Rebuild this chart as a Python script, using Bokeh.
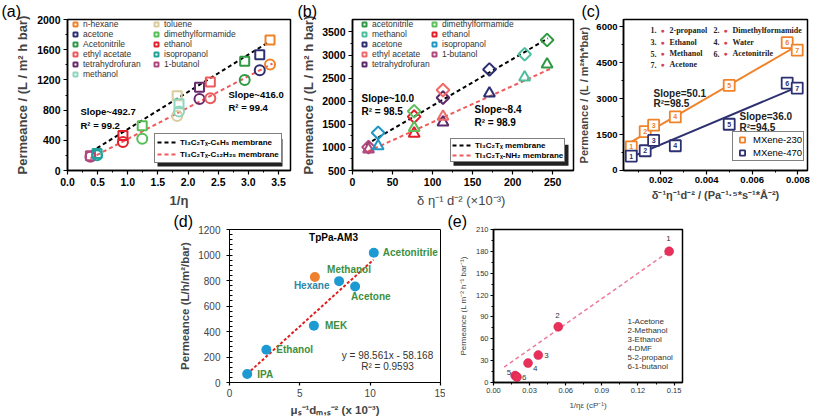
import math
from bokeh.plotting import figure
from bokeh.models import (Label, Legend, LegendItem, BoxAnnotation, Spacer,
                          FixedTicker, NumeralTickFormatter, ColumnDataSource)
from bokeh.layouts import column, row
from bokeh.embed import file_html
from bokeh.resources import INLINE
from bokeh.core.properties import value

SANS = "Liberation Sans"
SERIF = "Liberation Serif"

# ---------------- data: panel (a) ----------------
a_solvents = ["1-butanol", "isopropanol", "ethanol", "dimethylformamide", "toluene",
              "methanol", "tetrahydrofuran", "ethyl acetate", "Acetonitrile", "acetone", "n-hexane"]
a_inv_eta = [0.38, 0.49, 0.92, 1.24, 1.82, 1.85, 2.19, 2.37, 2.94, 3.19, 3.36]
a_perm_c6h5 = [195, 225, 463, 593, 991, 883, 1104, 1173, 1446, 1532, 1727]
a_perm_c12h25 = [182, 203, 377, 420, 723, 783, 948, 957, 1199, 1329, 1403]
a_colors = ["#b0487e", "#1fa39c", "#e21f2b", "#55bf55", "#d9cc9e", "#8fd6bd",
            "#6a2b6a", "#ee5a5a", "#2e9a45", "#2c3070", "#f08228"]
a_leg_col1 = ["n-hexane", "acetone", "Acetonitrile", "ethyl acetate", "tetrahydrofuran", "methanol"]
a_leg_col2 = ["toluene", "dimethylformamide", "ethanol", "isopropanol", "1-butanol"]
a_fit1_x = [0.39, 3.33]
a_fit1_y = [247, 1697]
a_fit2_x = [0.38, 3.40]
a_fit2_y = [160, 1415]

# ---------------- data: panel (b) ----------------
b_solvents = ["1-butanol", "isopropanol", "ethanol", "dimethylformamide", "tetrahydrofuran",
              "ethyl acetate", "acetone", "methanol", "acetonitrile"]
b_x = [20, 32, 77, 77, 113, 113, 171, 215, 243]
b_perm_ti = [1007, 1316, 1666, 1783, 2077, 2242, 2688, 3017, 3326]
b_perm_nh2 = [960, 1028, 1302, 1426, 1542, 1666, 2173, 2516, 2798]
b_colors = ["#b0487e", "#2098c4", "#e21f2b", "#5cbf5c", "#5a2a6a",
            "#f06a6a", "#2c3070", "#4cbf9f", "#2e9a45"]
b_leg_col1 = ["acetonitrile", "methanol", "acetone", "ethyl acetate", "tetrahydrofuran"]
b_leg_col2 = ["dimethylformamide", "ethanol", "isopropanol", "1-butanol"]
b_fit1_x = [17, 244]
b_fit1_y = [1062, 3360]
b_fit2_x = [19, 247]
b_fit2_y = [911, 2701]

# ---------------- data: panel (c) ----------------
c_num = ["1", "2", "3", "4", "5", "6", "7"]
c_names = ["2-propanol", "Dimethylformamide", "Ethanol", "Water", "Methanol", "Acetonitrile", "Acetone"]
c_x = [0.00070, 0.00131, 0.00168, 0.00263, 0.00499, 0.00753, 0.00797]
c_perm_230 = [983, 1622, 1892, 2236, 3550, 5332, 5025]
c_perm_470 = [602, 823, 1253, 1032, 1929, 3649, 3440]
c_fit230_x = [0.00070, 0.00804]
c_fit230_y = [1192, 5246]
c_fit470_x = [0.00074, 0.00800]
c_fit470_y = [577, 3489]

# ---------------- data: panel (d) ----------------
d_names = ["IPA", "Ethanol", "MEK", "Hexane", "Methanol", "Acetone", "Acetonitrile"]
d_x = [1.26, 2.62, 6.00, 6.07, 7.79, 8.93, 10.26]
d_perm = [66, 257, 446, 827, 795, 753, 1018]
d_fit_x = [1.24, 10.24]
d_fit_y = [66, 963]

# ---------------- data: panel (e) ----------------
e_num = ["1", "2", "3", "4", "5", "6"]
e_names = ["1-Acetone", "2-Methanol", "3-Ethanol", "4-DMF", "5-2-propanol", "6-1-butanol"]
e_x = [0.1459, 0.0538, 0.0372, 0.0287, 0.0180, 0.0195]
e_perm = [180, 76.5, 37.6, 26.6, 9.5, 7.5]
e_fit_x = [0.0088, 0.146]
e_fit_y = [21, 180]


def make_fig(canvas, frame, xr, yr):
    cx0, cx1, cy0, cy1 = canvas
    fx0, fx1, fy0, fy1 = frame
    p = figure(width=cx1 - cx0, height=cy1 - cy0, x_range=xr, y_range=yr,
               output_backend="svg", toolbar_location=None,
               min_border_left=fx0 - cx0, min_border_right=cx1 - fx1,
               min_border_top=fy0 - cy0, min_border_bottom=cy1 - fy1)
    p.xgrid.visible = False
    p.ygrid.visible = False
    p.outline_line_color = "black"
    p.outline_line_width = 1.5
    p.background_fill_color = "white"
    p.border_fill_color = "white"
    for ax in (p.xaxis[0], p.yaxis[0]):
        ax.axis_line_width = 1.5
        ax.major_tick_line_width = 1.2
        ax.minor_tick_line_width = 1
        ax.major_tick_in = 0
        ax.major_tick_out = 4
        ax.minor_tick_in = 0
        ax.minor_tick_out = 2
        ax.major_label_text_font = SANS
        ax.axis_label_text_font = SANS
        ax.major_label_text_color = "black"
        ax.major_label_standoff = 3
        ax.axis_label_standoff = 4
    return p


def mapper(frame, xr, yr):
    fx0, fx1, fy0, fy1 = frame

    def f(cx, cy):
        x = xr[0] + (cx - fx0) / (fx1 - fx0) * (xr[1] - xr[0])
        y = yr[0] + (fy1 - cy) / (fy1 - fy0) * (yr[1] - yr[0])
        return x, y
    return f


def add_text(p, m, cx, cy, text, size, bold=False, color="black", font=SANS, align="left",
             baseline="middle"):
    x, y = m(cx, cy)
    p.add_layout(Label(x=x, y=y, text=text, text_font_size=size, text_font=font,
                       text_font_style="bold" if bold else "normal", text_color=color,
                       text_align=align, text_baseline=baseline))


def panel_letter(p, text, offset):
    p.title.text = text
    p.title.align = "left"
    p.title.offset = offset
    p.title.text_font_size = "16px"
    p.title.text_font_style = "normal"
    p.title.text_font = SANS
    p.title.text_color = "black"
    p.title.standoff = 0
    p.title.vertical_align = "bottom"


def style_legend(leg, fs, gw, gh, lh, font=SANS, bold=False, color="#333333"):
    leg.label_text_font_size = fs
    leg.label_text_font = font
    leg.label_text_font_style = "bold" if bold else "normal"
    leg.label_text_color = color
    leg.glyph_width = gw
    leg.glyph_height = gh
    leg.label_height = lh
    leg.label_standoff = 3
    leg.spacing = 0
    leg.margin = 0
    leg.orientation = "vertical"


# ======================= panel (a) =======================
A_canvas = (0, 295, 0, 210)
A_frame = (67, 290, 18, 172)
A_xr = (0.0, 3.7)
A_yr = (0, 2000)
pa = make_fig(A_canvas, A_frame, A_xr, A_yr)
ma = mapper(A_frame, A_xr, A_yr)
pa.xaxis.ticker = FixedTicker(ticks=[0, 0.5, 1, 1.5, 2, 2.5, 3, 3.5],
                              minor_ticks=[0.25, 0.75, 1.25, 1.75, 2.25, 2.75, 3.25])
pa.yaxis.ticker = FixedTicker(ticks=[0, 400, 800, 1200, 1600, 2000],
                              minor_ticks=[200, 600, 1000, 1400, 1800])
pa.xaxis.formatter = NumeralTickFormatter(format="0.0")
for ax in (pa.xaxis[0], pa.yaxis[0]):
    ax.major_label_text_font_size = "10.5px"
    ax.major_label_text_font_style = "bold"
    ax.axis_label_text_font_size = "13px"
    ax.axis_label_text_font_style = "bold"
pa.xaxis.axis_label = "1/η"
pa.yaxis.axis_label = "Permeance / (L / m² h bar)"

# shadow of line legend
sx0, sy0 = ma(157, 140)
sx1, sy1 = ma(282, 168)
pa.add_layout(BoxAnnotation(left=sx0, right=sx1, top=sy0, bottom=sy1,
                            fill_color="#222222", fill_alpha=1, line_alpha=0))

la1 = pa.line(a_fit1_x, a_fit1_y, line_color="black", line_width=2, line_dash="4 3")
la2 = pa.line(a_fit2_x, a_fit2_y, line_color="#f05a5a", line_width=2, line_dash="4 3")
a_sq = {}
for name, xv, ys, yc, col in zip(a_solvents, a_inv_eta, a_perm_c6h5, a_perm_c12h25, a_colors):
    pa.scatter([xv], [yc], marker="circle", size=10, line_color=col, line_width=2, fill_color=None)
    a_sq[name] = pa.scatter([xv], [ys], marker="square", size=9, line_color=col, line_width=2,
                            fill_color=None)

leg_a1 = Legend(items=[LegendItem(label=n, renderers=[a_sq[n]]) for n in a_leg_col1],
                location=(3, 91), border_line_alpha=0, background_fill_alpha=0, padding=0)
style_legend(leg_a1, "8.5px", 10, 10, 10)
leg_a2 = Legend(items=[LegendItem(label=n, renderers=[a_sq[n]]) for n in a_leg_col2],
                location=(84, 101), border_line_alpha=0, background_fill_alpha=0, padding=0)
style_legend(leg_a2, "8.5px", 10, 10, 10)
leg_a3 = Legend(items=[LegendItem(label="Ti₃C₂Tₓ-C₆H₅ membrane", renderers=[la1]),
                       LegendItem(label="Ti₃C₂Tₓ-C₁₂H₂₅ membrane", renderers=[la2])],
                location=(87, 7), border_line_color="black", border_line_width=1,
                background_fill_color="white", background_fill_alpha=1, padding=2)
style_legend(leg_a3, "8px", 20, 12, 12, bold=True, color="black")
pa.add_layout(leg_a1)
pa.add_layout(leg_a2)
pa.add_layout(leg_a3)

add_text(pa, ma, 80, 112, "Slope~492.7", "9.5px", bold=True)
add_text(pa, ma, 80, 126, "R² = 99.2", "9.5px", bold=True)
add_text(pa, ma, 228, 94, "Slope~416.0", "9.5px", bold=True)
add_text(pa, ma, 228, 108, "R² = 99.4", "9.5px", bold=True)
panel_letter(pa, "(a)", -66)

# ======================= panel (b) =======================
B_canvas = (295, 575, 0, 210)
B_frame = (352, 573, 15, 174)
B_xr = (0, 276)
B_yr = (500, 3770)
pb = make_fig(B_canvas, B_frame, B_xr, B_yr)
mb = mapper(B_frame, B_xr, B_yr)
pb.xaxis.ticker = FixedTicker(ticks=[0, 50, 100, 150, 200, 250],
                              minor_ticks=[25, 75, 125, 175, 225])
pb.yaxis.ticker = FixedTicker(ticks=[500, 1000, 1500, 2000, 2500, 3000, 3500],
                              minor_ticks=[750, 1250, 1750, 2250, 2750, 3250])
for ax in (pb.xaxis[0], pb.yaxis[0]):
    ax.major_label_text_font_size = "10.5px"
    ax.major_label_text_font_style = "bold"
    ax.axis_label_text_font_size = "13px"
pb.yaxis.axis_label_text_font_style = "bold"
pb.xaxis.axis_label_text_font_style = "normal"
pb.xaxis.axis_label = "δ  η⁻¹ d⁻² (×10⁻³)"
pb.yaxis.axis_label = "Permeance / (L / m² h bar)"
pb.yaxis.axis_label_standoff = 3

bx0, by0 = mb(453, 147)
bx1, by1 = mb(568, 169)
pb.add_layout(BoxAnnotation(left=bx0, right=bx1, top=by0, bottom=by1,
                            fill_color="#222222", fill_alpha=1, line_alpha=0))
lb1 = pb.line(b_fit1_x, b_fit1_y, line_color="black", line_width=2, line_dash="4 3")
lb2 = pb.line(b_fit2_x, b_fit2_y, line_color="#f05a5a", line_width=2, line_dash="4 3")
b_dm = {}
for name, xv, yd, yt, col in zip(b_solvents, b_x, b_perm_ti, b_perm_nh2, b_colors):
    pb.scatter([xv], [yt], marker="triangle", size=11, line_color=col, line_width=2, fill_color=None)
    b_dm[name] = pb.scatter([xv], [yd], marker="square", angle=math.pi / 4, size=9,
                            line_color=col, line_width=2, fill_color=None)

leg_b1 = Legend(items=[LegendItem(label=n, renderers=[b_dm[n]]) for n in b_leg_col1],
                location=(7, 101), border_line_alpha=0, background_fill_alpha=0, padding=0)
style_legend(leg_b1, "8.5px", 10, 10, 10)
leg_b2 = Legend(items=[LegendItem(label=n, renderers=[b_dm[n]]) for n in b_leg_col2],
                location=(77, 111), border_line_alpha=0, background_fill_alpha=0, padding=0)
style_legend(leg_b2, "8.5px", 10, 10, 10)
leg_b3 = Legend(items=[LegendItem(label="Ti₃C₂Tₓ membrane", renderers=[lb1]),
                       LegendItem(label="Ti₃C₂Tₓ-NH₂ membrane", renderers=[lb2])],
                location=(98, 8), border_line_color="black", border_line_width=1,
                background_fill_color="white", background_fill_alpha=1, padding=1)
style_legend(leg_b3, "8px", 20, 10, 10, bold=True, color="black")
pb.add_layout(leg_b1)
pb.add_layout(leg_b2)
pb.add_layout(leg_b3)

add_text(pb, mb, 361, 98, "Slope~10.0", "10px", bold=True)
add_text(pb, mb, 361, 112, "R² = 98.5", "10px", bold=True)
add_text(pb, mb, 474, 110, "Slope~8.4", "10px", bold=True)
add_text(pb, mb, 474, 123, "R² = 98.9", "10px", bold=True)
panel_letter(pb, "(b)", -55)

# ======================= panel (c) =======================
C_canvas = (575, 817, 0, 210)
C_frame = (623, 807, 13, 184)
C_xr = (0.00036, 0.00842)
C_yr = (-1, 6300)
pc = make_fig(C_canvas, C_frame, C_xr, C_yr)
mc = mapper(C_frame, C_xr, C_yr)
pc.xaxis.ticker = FixedTicker(ticks=[0.002, 0.004, 0.006, 0.008],
                              minor_ticks=[0.001, 0.003, 0.005, 0.007])
pc.yaxis.ticker = FixedTicker(ticks=[0, 1500, 3000, 4500, 6000],
                              minor_ticks=[750, 2250, 3750, 5250])
pc.xaxis.formatter = NumeralTickFormatter(format="0.000")
for ax in (pc.xaxis[0], pc.yaxis[0]):
    ax.major_label_text_font_size = "9.5px"
    ax.major_label_text_font_style = "bold"
    ax.axis_label_text_font_size = "11px"
    ax.axis_label_text_font_style = "bold"
    ax.major_label_standoff = 2
    ax.axis_label_standoff = 3
pc.xaxis.axis_label = "δ⁻¹η⁻¹d⁻² / (Pa⁻¹·⁵*s⁻¹*Å⁻²)"
pc.yaxis.axis_label = "Permeance / (L / m²*h*bar)"

orange = "#f08228"
navy = "#2c3070"
pc.line(c_fit230_x, c_fit230_y, line_color=orange, line_width=2)
pc.line(c_fit470_x, c_fit470_y, line_color=navy, line_width=2)
rc1 = pc.scatter(c_x, c_perm_230, marker="square", size=11, line_color=orange, line_width=1.8,
                 fill_color="white")
rc2 = pc.scatter(c_x, c_perm_470, marker="square", size=11, line_color=navy, line_width=1.8,
                 fill_color="white")
pc.text(c_x, c_perm_230, text=c_num, text_align="center", text_baseline="middle",
        text_font_size="7px", text_font=value(SANS), text_font_style="bold", text_color=orange)
pc.text(c_x, c_perm_470, text=c_num, text_align="center", text_baseline="middle",
        text_font_size="7px", text_font=value(SANS), text_font_style="bold", text_color=navy)

leg_c = Legend(items=[LegendItem(label="MXene-230", renderers=[rc1]),
                      LegendItem(label="MXene-470", renderers=[rc2])],
               location=(109, 9), border_line_color="black", border_line_width=1,
               background_fill_color="white", background_fill_alpha=1, padding=1)
style_legend(leg_c, "9.5px", 16, 13, 13, color="black")
pc.add_layout(leg_c)

c_rows = [25, 39, 52, 64]
for i, (n, name) in enumerate(zip(c_num, c_names)):
    col = i % 2
    r = i // 2
    base = 650 if col == 0 else 713
    cy = c_rows[r]
    add_text(pc, mc, base, cy, n + ".", "8px", bold=True, font=SERIF, color="#222222")
    add_text(pc, mc, base + 10, cy, "●", "7px", color="#d8405a", font=SANS)
    add_text(pc, mc, base + 19, cy, name, "8px", bold=True, font=SERIF, color="#222222")

add_text(pc, mc, 653, 97, "Slope=50.1", "10px", bold=True, color="#222222")
add_text(pc, mc, 653, 108, "R²=98.5", "10px", bold=True, color="#222222")
add_text(pc, mc, 739, 123, "Slope=36.0", "10px", bold=True, color="#222222")
add_text(pc, mc, 739, 135, "R²=94.5", "10px", bold=True, color="#222222")
panel_letter(pc, "(c)", -42)

# ======================= panel (d) =======================
D_canvas = (150, 445, 210, 419)
D_frame = (229, 440, 229, 382)
D_xr = (0, 15)
D_yr = (0, 1200)
pd_ = make_fig(D_canvas, D_frame, D_xr, D_yr)
md = mapper(D_frame, D_xr, D_yr)
pd_.outline_line_width = 1
pd_.xaxis.ticker = FixedTicker(ticks=[0, 5, 10, 15])
pd_.yaxis.ticker = FixedTicker(ticks=[0, 200, 400, 600, 800, 1000, 1200],
                               minor_ticks=[v for v in range(0, 1201, 40)])
for ax in (pd_.xaxis[0], pd_.yaxis[0]):
    ax.axis_line_width = 1
    ax.major_label_text_font_size = "10px"
    ax.major_label_text_color = "#444444"
    ax.axis_label_text_font_size = "11.5px"
    ax.axis_label_text_font_style = "bold"
    ax.major_tick_out = 3
    ax.minor_tick_out = 0
    ax.minor_tick_in = 3
pd_.xaxis.minor_tick_in = 0
pd_.yaxis.major_label_standoff = 6
pd_.xaxis.axis_label = "μₛ⁻¹dₘ,ₛ⁻² (x 10⁻³)"
pd_.yaxis.axis_label = "Permeance (L/h/m²/bar)"
pd_.line(d_fit_x, d_fit_y, line_color="#e02020", line_width=2, line_dash="3 2")
d_colors = ["#1e9ad2" if n != "Hexane" else "#ee8030" for n in d_names]
pd_.scatter(d_x, d_perm, marker="circle", size=10, fill_color=d_colors, line_color=None)
d_src = ColumnDataSource(dict(
    x=d_x, y=d_perm, t=d_names,
    dx=[10, 10, 11, -21, -12, -4, 9],
    dy=[0, 0, 0, 8, -12, 10, 0],
    c=["#3d8f3d", "#3d8f3d", "#3d8f3d", "#2a88a8", "#3d8f3d", "#3d8f3d", "#3d8f3d"]))
pd_.text("x", "y", text="t", x_offset="dx", y_offset="dy", text_color="c", source=d_src,
         text_font_size="10px", text_font=value(SANS), text_font_style="bold",
         text_baseline="middle", text_align="left")
add_text(pd_, md, 333, 237, "TpPa-AM3", "10px", bold=True, align="center")
add_text(pd_, md, 387, 355, "y = 98.561x - 58.168", "10px", color="#333333", align="center")
add_text(pd_, md, 387, 366, "R² = 0.9593", "10px", color="#333333", align="center")
panel_letter(pd_, "(d)", -56)

# ======================= panel (e) =======================
E_canvas = (445, 700, 210, 419)
E_frame = (493, 682, 224, 390)
E_xr = (0, 0.157)
E_yr = (0, 210)
pe = make_fig(E_canvas, E_frame, E_xr, E_yr)
me = mapper(E_frame, E_xr, E_yr)
pe.xaxis.ticker = FixedTicker(ticks=[0, 0.03, 0.06, 0.09, 0.12, 0.15],
                              minor_ticks=[0.015, 0.045, 0.075, 0.105, 0.135])
pe.yaxis.ticker = FixedTicker(ticks=[0, 30, 60, 90, 120, 150, 180, 210],
                              minor_ticks=[15, 45, 75, 105, 135, 165, 195])
pe.xaxis.formatter = NumeralTickFormatter(format="0.00")
for ax in (pe.xaxis[0], pe.yaxis[0]):
    ax.major_label_text_font_size = "7.5px"
    ax.major_label_text_color = "#333333"
    ax.axis_label_text_font_size = "8px"
    ax.axis_label_text_font_style = "normal"
    ax.major_tick_out = 3
    ax.major_label_standoff = 2
    ax.axis_label_standoff = 5
pe.xaxis.axis_label = "1/ηε (cP⁻¹)"
pe.yaxis.axis_label = "Permeance (L m⁻² h⁻¹ bar⁻¹)"
pe.line(e_fit_x, e_fit_y, line_color="#f07a9a", line_width=1.5, line_dash="4 3")
pe.scatter(e_x, e_perm, marker="circle", size=9, fill_color="#e8305a", line_color="#d02050",
           line_width=0.5)
e_src = ColumnDataSource(dict(
    x=e_x, y=e_perm, t=e_num,
    dx=[-3, -3, 6, 5, -4, 5],
    dy=[-13, -11, 0, 5, -3, 0],
    al=["left", "left", "left", "left", "right", "left"]))
pe.text("x", "y", text="t", x_offset="dx", y_offset="dy", text_align="al", source=e_src,
        text_font_size="8px", text_font=value(SANS), text_color="#333333", text_baseline="middle")
for k, name in enumerate(e_names):
    add_text(pe, me, 627, 324 + k * 9.8, name, "8px", color="#333333")
panel_letter(pe, "(e)", -46)

layout = column(row(pa, pb, pc),
                row(Spacer(width=150, height=209), pd_, pe, Spacer(width=117, height=209)))

open("out.html", "w").write(file_html(layout, INLINE))
